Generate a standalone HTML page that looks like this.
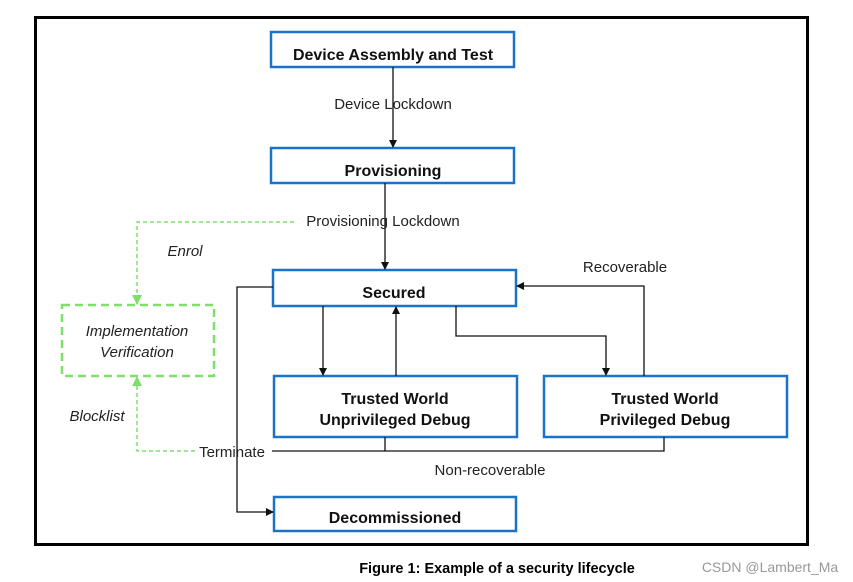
<!DOCTYPE html>
<html><head><style>
body{margin:0;background:#fff;width:853px;height:582px;overflow:hidden;font-family:"Liberation Sans",sans-serif}
</style></head><body>
<svg width="853" height="582" xmlns="http://www.w3.org/2000/svg" style="position:absolute;left:0;top:0">
<defs>
<marker id="a" markerWidth="8" markerHeight="8" refX="7" refY="4" orient="auto" markerUnits="userSpaceOnUse"><path d="M0,0 L8,4 L0,8z" fill="#111"/></marker>
<marker id="g" markerWidth="10" markerHeight="10" refX="9" refY="5" orient="auto" markerUnits="userSpaceOnUse"><path d="M0,0 L10,5 L0,10z" fill="#7ee06a"/></marker>
</defs>
<rect x="35.5" y="17.5" width="772" height="527" fill="none" stroke="#000" stroke-width="3"/>
<g fill="#fff" stroke="#1a73c8" stroke-width="2.5">
<rect x="271" y="32" width="243" height="35"/>
<rect x="271" y="148" width="243" height="35"/>
<rect x="273" y="270" width="243" height="36"/>
<rect x="274" y="376" width="243" height="61"/>
<rect x="544" y="376" width="243" height="61"/>
<rect x="274" y="497" width="242" height="34"/>
</g>
<rect x="62" y="305" width="152" height="71" fill="none" stroke="#7ee06a" stroke-width="2.5" stroke-dasharray="8,5"/>
<g stroke="#111" stroke-width="1.3" fill="none">
<line x1="393" y1="67" x2="393" y2="147" marker-end="url(#a)"/>
<line x1="385" y1="183" x2="385" y2="269" marker-end="url(#a)"/>
<polyline points="273,287 237,287 237,512 273,512" marker-end="url(#a)"/>
<polyline points="272,451 664,451 664,437"/>
<line x1="385" y1="437" x2="385" y2="451"/>
<line x1="323" y1="306" x2="323" y2="375" marker-end="url(#a)"/>
<line x1="396" y1="376" x2="396" y2="307" marker-end="url(#a)"/>
<polyline points="456,306 456,336 606,336 606,375" marker-end="url(#a)"/>
<polyline points="644,376 644,286 517,286" marker-end="url(#a)"/>
</g>
<g stroke="#7ee06a" stroke-width="1.5" fill="none" stroke-dasharray="4,3">
<polyline points="294,222 137,222 137,304" marker-end="url(#g)"/>
<polyline points="195,451 137,451 137,377" marker-end="url(#g)"/>
</g>
<g font-family="Liberation Sans,sans-serif" font-size="15" fill="#222" text-anchor="middle">
<text x="393" y="109">Device Lockdown</text>
<text x="383" y="226">Provisioning  Lockdown</text>
<text x="232" y="457">Terminate</text>
<text x="625" y="272">Recoverable</text>
<text x="490" y="475">Non-recoverable</text>
<text x="185" y="256" font-style="italic">Enrol</text>
<text x="97" y="421" font-style="italic">Blocklist</text>
<text x="137" y="336" font-style="italic">Implementation</text>
<text x="137" y="357" font-style="italic">Verification</text>
</g>
<g font-family="Liberation Sans,sans-serif" font-size="16" font-weight="bold" fill="#111" text-anchor="middle">
<text x="393" y="60">Device Assembly and Test</text>
<text x="393" y="176">Provisioning</text>
<text x="394" y="298">Secured</text>
<text x="395" y="404">Trusted World</text>
<text x="395" y="425">Unprivileged Debug</text>
<text x="665" y="404">Trusted World</text>
<text x="665" y="425">Privileged Debug</text>
<text x="395" y="523">Decommissioned</text>
</g>
<text x="497" y="573" font-family="Liberation Sans,sans-serif" font-size="14.5" font-weight="bold" text-anchor="middle" fill="#000">Figure 1: Example of a security lifecycle</text>
<text x="770" y="572" font-family="Liberation Sans,sans-serif" font-size="14" text-anchor="middle" fill="#999">CSDN @Lambert_Ma</text>
</svg>
</body></html>
